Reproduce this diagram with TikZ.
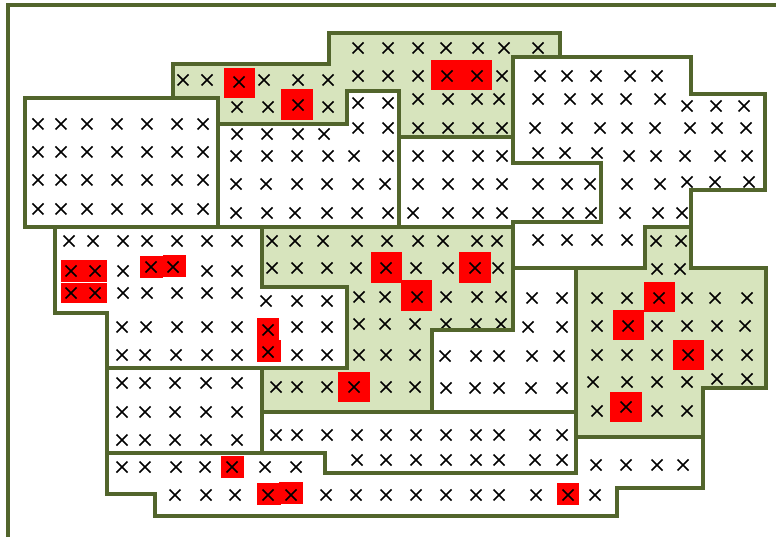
\documentclass[tikz,border=0pt]{standalone}
\definecolor{edgegreen}{RGB}{82,101,44}
\definecolor{fillgreen}{RGB}{215,228,189}
\definecolor{boxred}{RGB}{255,0,0}
\tikzset{
  region/.style={draw=edgegreen,line width=4pt,line join=miter},
  greenfill/.style={fill=fillgreen},
  redbox/.style={fill=boxred},
  xmark/.style={draw=black,line width=1.7pt},
}
\begin{document}
\begin{tikzpicture}[x=1pt,y=-1pt]
\useasboundingbox (0,0) rectangle (776,537);
\fill[white] (0,0) rectangle (776,537);
% green fills
\fill[greenfill] (173,64) -- (329,64) -- (329,33) -- (560,33) -- (560,57) -- (513,57) -- (513,137) -- (399,137) -- (399,91) -- (347,91) -- (347,124) -- (218,124) -- (218,98) -- (173,98) -- cycle;
\fill[greenfill] (262,227) -- (513,227) -- (513,330) -- (432,330) -- (432,412) -- (262,412) -- (262,368) -- (347,368) -- (347,287) -- (262,287) -- cycle;
\fill[greenfill] (576,268) -- (645,268) -- (645,227) -- (691,227) -- (691,268) -- (766,268) -- (766,388) -- (703,388) -- (703,437) -- (576,437) -- cycle;
% red boxes
\foreach \a/\b/\c/\d in {224/68/255/98, 281/89/313/120, 431/60/462/90, 462/60/492/90,
  61/260/83/282, 83/260/107/282, 61/283/83/303, 83/283/107/303,
  140/256/163/278, 163/255/186/277, 257/318/279/340, 257/340/281/362,
  371/252/402/283, 459/252/491/283, 401/280/432/311, 338/372/370/402,
  221/456/244/478, 257/483/281/505, 279/482/303/504, 557/483/579/505,
  644/282/675/312, 613/310/644/340, 673/340/704/370, 610/392/642/422}
  {\fill[redbox] (\a,\b) rectangle (\c,\d);}
% crosses
\foreach \yy/\xs in {
  48/{358,388,418,446,478,504,538},
  80/{183,207,264,298,328}, 82/{239},
  76/{358,388,418,447,477,502},
  107/{237,268,328}, 105/{298},
  99/{418,448,477,499},
  128/{418,448,478,502},
  103/{358,388}, 128/{358,388},
  134/{237,267,298,324},
  156/{236,267,297,328,354,388},
  184/{236,266,297,327,358,385},
  213/{236,267,295,327,357,388},
  124/{38,61,87,117,147,177,203},
  152/{38,61,87,117,147,177,203},
  180/{38,61,87,117,147,177,203},
  209/{38,61,87,117,147,177,203},
  156/{418,448,478,502},
  184/{418,448,478,502,538,567,590},
  213/{413,448,478,502,538,568,591},
  76/{540,567,596,630,657},
  99/{538,570,597,626,660},
  106/{687,716,744},
  128/{535,567,600,627,655,690,717,746},
  153/{538,565,597},
  156/{629,656,685,720,747},
  182/{687,715,749},
  184/{627,660},
  213/{625,658,682},
  240/{538,567,597,627},
  241/{656,681},
  269/{657,680},
  298/{597,627,659,687,715,747},
  326/{597,628,657,687,717,745},
  355/{597,627,657,688,717,747},
  382/{593,627,657,687}, 379/{717,747},
  411/{597,657,687}, 407/{626},
  241/{272,295,323,357,387,418,443,477,497},
  268/{272,297,327,356,386,416,448,475,498},
  297/{359,385,417,446,477,501},
  324/{359,385,415,446,476,501},
  355/{359,386,415},
  387/{276,297,327,354,386,415},
  241/{69,93,123,147,177,207,237},
  271/{71,95,123,207,237}, 267/{151,173},
  293/{71,95,123,147,177,207,237},
  301/{266,297,327},
  327/{122,146,177,207,237,297,327}, 330/{268},
  355/{122,145,176,207,237,297,327}, 352/{268},
  383/{122,145,175,206,237},
  412/{122,145,175,206,237},
  440/{122,145,175,206,237},
  435/{276,297,327,357,386,416,446,476,499,535,562},
  460/{357,386,416,446,476,499,535,562},
  298/{532,562},
  327/{528,562},
  356/{445,476,499,532,559},
  388/{446,475,499,531,562},
  467/{122,145,176,205,232,265,296},
  495/{175,206,235,268,291,326,356,386,416,446,476,499,536,568,595},
  465/{596,626,657,683}}
  {\foreach \xx in \xs
    {\draw[xmark] (\xx,\yy) +(-5.5,-5.5) -- +(5.5,5.5) +(-5.5,5.5) -- +(5.5,-5.5);}}
% outer frame
\draw[region] (8,537) -- (8,5) -- (776,5);
% region outlines
\draw[region] (173,64) -- (329,64) -- (329,33) -- (560,33) -- (560,57) -- (513,57) -- (513,137) -- (399,137) -- (399,91) -- (347,91) -- (347,124) -- (218,124) -- (218,98) -- (173,98) -- cycle;
\draw[region] (25,98) -- (218,98) -- (218,227) -- (25,227) -- cycle;
\draw[region] (218,124) -- (347,124) -- (347,91) -- (399,91) -- (399,227) -- (218,227) -- cycle;
\draw[region] (399,137) -- (513,137) -- (513,163) -- (601,163) -- (601,222) -- (513,222) -- (513,227) -- (399,227) -- cycle;
\draw[region] (513,57) -- (691,57) -- (691,94) -- (765,94) -- (765,190) -- (691,190) -- (691,227) -- (645,227) -- (645,268) -- (513,268) -- (513,222) -- (601,222) -- (601,163) -- (513,163) -- cycle;
\draw[region] (262,227) -- (513,227) -- (513,330) -- (432,330) -- (432,412) -- (262,412) -- (262,368) -- (347,368) -- (347,287) -- (262,287) -- cycle;
\draw[region] (55,227) -- (262,227) -- (262,287) -- (347,287) -- (347,368) -- (107,368) -- (107,313) -- (55,313) -- cycle;
\draw[region] (107,368) -- (262,368) -- (262,453) -- (107,453) -- cycle;
\draw[region] (262,412) -- (576,412) -- (576,473) -- (325,473) -- (325,453) -- (262,453) -- cycle;
\draw[region] (513,268) -- (576,268) -- (576,412) -- (432,412) -- (432,330) -- (513,330) -- cycle;
\draw[region] (576,268) -- (645,268) -- (645,227) -- (691,227) -- (691,268) -- (766,268) -- (766,388) -- (703,388) -- (703,437) -- (576,437) -- cycle;
\draw[region] (107,453) -- (325,453) -- (325,473) -- (576,473) -- (576,437) -- (703,437) -- (703,488) -- (617,488) -- (617,516) -- (155,516) -- (155,494) -- (107,494) -- cycle;
\end{tikzpicture}
\end{document}
